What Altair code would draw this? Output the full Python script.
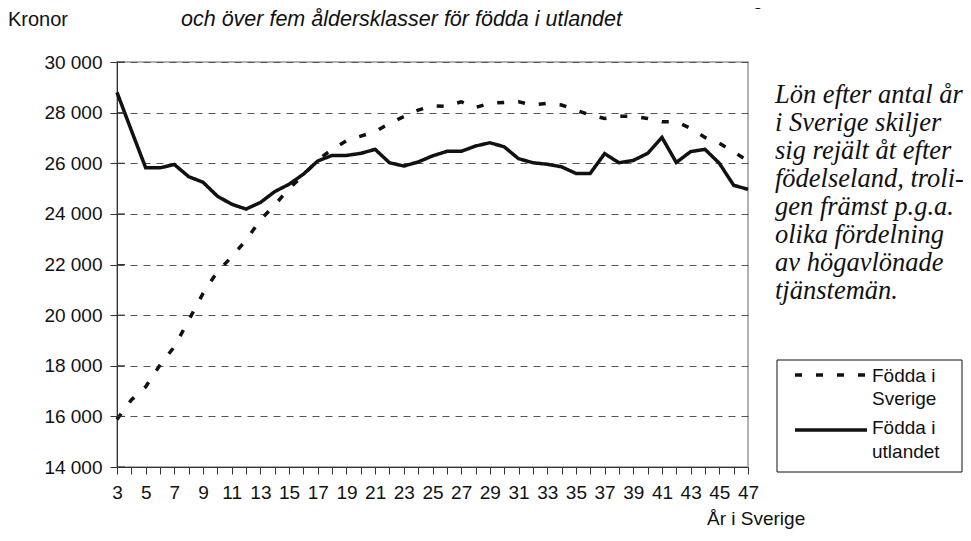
import altair as alt
import pandas as pd

years = list(range(3, 48))
sverige = [15880, 16650, 17170, 18030, 18750, 19800, 20860, 21720, 22300, 22970,
           23760, 24350, 25000, 25530, 26130, 26550, 26890, 27070, 27250, 27580,
           27840, 28100, 28270, 28250, 28430, 28200, 28370, 28400, 28430, 28300,
           28370, 28300, 28100, 27900, 27770, 27860, 27860, 27770, 27640, 27640,
           27380, 27020, 26790, 26450, 26100]
utlandet = [28800, 27300, 25820, 25820, 25950, 25470, 25250, 24700, 24380, 24190,
            24450, 24880, 25170, 25570, 26090, 26310, 26310, 26390, 26550, 26020,
            25890, 26050, 26290, 26470, 26470, 26680, 26810, 26650, 26180, 26020,
            25960, 25860, 25600, 25600, 26380, 26020, 26110, 26390, 27020, 26030,
            26460, 26550, 26000, 25130, 24970]
series_names = ["Födda i Sverige", "Födda i utlandet"]
legend_lines = [["Födda i", "Sverige"], ["Födda i", "utlandet"]]
y_ticks = [14000, 16000, 18000, 20000, 22000, 24000, 26000, 28000, 30000]
title_lines = ["Glidande medelvärde över tre åldersklasser för födda i Sverige",
               "och över fem åldersklasser för födda i utlandet"]
y_title = "Kronor"
x_title = "År i Sverige"
note_lines = ["Lön efter antal år", "i Sverige skiljer", "sig rejält åt efter",
              "födelseland, troli-", "gen  främst p.g.a.", "olika fördelning",
              "av högavlönade", "tjänstemän."]

rows = []
for i, yr in enumerate(years):
    rows.append({"ar": yr, "lon": sverige[i], "serie": series_names[0]})
    rows.append({"ar": yr, "lon": utlandet[i], "serie": series_names[1]})
df = pd.DataFrame(rows)

SANS = "Liberation Sans"
SERIF = "Liberation Serif"
FS = 19
INK = "#111111"
DASH = [7, 14]

xscale = alt.Scale(domain=[3, 47], nice=False, zero=False)
yscale = alt.Scale(domain=[14000, 30000], nice=False, zero=False)

lines = alt.Chart(df).mark_line(strokeWidth=3.5, color=INK, strokeCap="butt", strokeJoin="miter").encode(
    x=alt.X("ar:Q", scale=xscale, title=None,
            axis=alt.Axis(values=years, tickSize=7, labelPadding=9, grid=False,
                          labelExpr="datum.value % 2 == 1 ? datum.label : ''",
                          labelOverlap=False, labelFlush=False,
                          domainColor="#333", tickColor="#333", labelColor="#111",
                          labelFont=SANS, labelFontSize=FS)),
    y=alt.Y("lon:Q", scale=yscale, title=None,
            axis=alt.Axis(values=y_ticks, tickSize=7, labelPadding=8, grid=True,
                          gridDash=[7, 6], gridColor="#555", gridWidth=1,
                          labelExpr="replace(format(datum.value, ','), ',', ' ')",
                          domainColor="#333", tickColor="#333", labelColor="#111",
                          labelFont=SANS, labelFontSize=FS)),
    strokeDash=alt.StrokeDash("serie:N", scale=alt.Scale(domain=series_names, range=[DASH, [1, 0]]), legend=None),
    detail="serie:N",
)

tick_df = pd.DataFrame({"v": y_ticks})
inner_ticks = alt.Chart(tick_df).mark_rule(color="#333", strokeWidth=1).encode(
    y=alt.Y("v:Q", scale=yscale), x=alt.value(0), x2=alt.value(8))

one = alt.Data(values=[{}])

def txt(text, x, y, font=SANS, size=FS, italic=False, align="left", line_height=None):
    kw = dict(text=text, font=font, fontSize=size, align=align, baseline="alphabetic", color="#111")
    if italic:
        kw["fontStyle"] = "italic"
    if line_height:
        kw["lineHeight"] = line_height
    return alt.Chart(one).mark_text(**kw).encode(x=alt.value(x), y=alt.value(y))

t_title1 = txt(title_lines[0], 64, -58, size=21.5, italic=True)
t_title2 = txt(title_lines[1], 64, -36, size=21.5, italic=True)
t_kronor = txt(y_title, -109, -36, size=20)
t_xtitle = txt(x_title, 590, 463)
t_note = txt(note_lines, 658, 41, font=SERIF, size=26.5, italic=True, line_height=28)

box = alt.Chart(one).mark_rect(fill="white", stroke="#111", strokeWidth=1).encode(
    x=alt.value(660), x2=alt.value(845), y=alt.value(298), y2=alt.value(410))
leg_dash = alt.Chart(one).mark_rule(color=INK, strokeWidth=3.5, strokeDash=DASH, strokeCap="butt").encode(
    x=alt.value(678), x2=alt.value(750), y=alt.value(313))
leg_solid = alt.Chart(one).mark_rule(color=INK, strokeWidth=3.5, strokeCap="butt").encode(
    x=alt.value(678), x2=alt.value(750), y=alt.value(368))
leg_t1 = txt(legend_lines[0], 755, 320, line_height=23)
leg_t2 = txt(legend_lines[1], 755, 372, line_height=24)

chart = alt.layer(
    lines, inner_ticks, t_title1, t_title2, t_kronor, t_xtitle, t_note,
    box, leg_dash, leg_solid, leg_t1, leg_t2
).properties(
    width=631, height=405,
    padding={"left": 109, "top": 54, "right": 215, "bottom": 66},
    autosize=alt.AutoSizeParams(type="none"),
).configure_view(stroke="#999", strokeWidth=1.5)

chart.save("out.html", embed_options={"renderer": "svg", "actions": False})
